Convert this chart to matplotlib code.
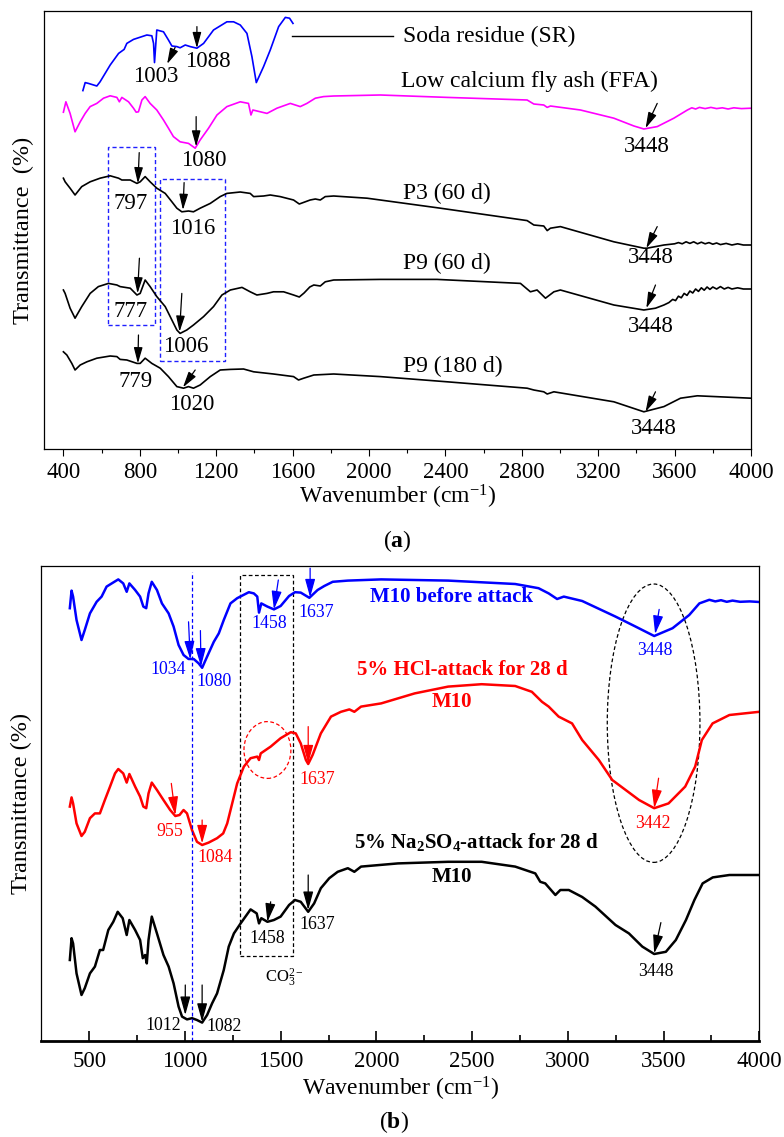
import matplotlib
matplotlib.use('agg')
import matplotlib.pyplot as plt
from matplotlib.patches import Rectangle, Ellipse

plt.rcParams['font.family'] = ['Liberation Serif', 'DejaVu Serif']
plt.rcParams['mathtext.fontset'] = 'custom'
plt.rcParams['mathtext.rm'] = 'Liberation Serif'
plt.rcParams['mathtext.it'] = 'Liberation Serif:italic'
plt.rcParams['mathtext.bf'] = 'Liberation Serif:bold'
plt.rcParams['lines.solid_joinstyle'] = 'round'

# ---- panel (a) spectra, wavenumber (cm-1) vs transmittance (a.u., stacked)
sr_wn = [502, 514, 531, 575, 592, 645, 689, 718, 732, 767, 837, 863, 872, 877, 884, 889, 924, 950, 968, 994,
         1011, 1038, 1064, 1099, 1134, 1186, 1256, 1291, 1326, 1361, 1387, 1410, 1448, 1483, 1527, 1562, 1584, 1602]
sr_t = [89.6, 91.6, 91.4, 90.75, 91.8, 96, 98.9, 99.9, 101.4, 102.4, 103.5, 103.3, 101.4, 96.6, 101.4, 104.75, 104.3,
        102.25, 100.75, 100.6, 100.3, 101, 100.6, 100.2, 101.4, 104.75, 106.8, 106.8, 106, 103.9, 98.1, 91.6, 95.6,
        99.75, 105.6, 107.9, 107.7, 106.4]

ffa_wn = [400, 413, 435, 461, 488, 514, 540, 575, 610, 645, 680, 693, 706, 741, 767, 781, 793, 811, 828, 854,
          889, 924, 950, 976, 1011, 1055, 1090, 1116, 1160, 1204, 1256, 1326, 1369, 1382, 1392, 1466, 1518, 1588,
          1640, 1675, 1719, 1762, 1815, 2059, 2409, 2828, 2863, 2915, 2933, 2950, 3107, 3282, 3387, 3439, 3509,
          3596, 3667, 3690, 3710, 3730, 3760, 3790, 3820, 3850, 3880, 3910, 3950, 4000]
ffa_t = [84.2, 86.8, 83.9, 79.3, 81.8, 83.9, 85.6, 86.4, 87.7, 88.3, 87.9, 86.8, 87.9, 86.8, 85.2, 84.2, 84.3,
         87.25, 88.1, 86.4, 84.75, 82.25, 80.2, 78.1, 76.8, 76.4, 75.2, 77.25, 80.2, 83.5, 85.6, 86.8, 86.4, 83.5,
         84.75, 83.9, 85.2, 86.4, 85.6, 86.4, 87.7, 88.1, 88.25, 88.5, 87.9, 87.25, 86.25, 86, 85.4, 85.75, 84.75,
         82.7, 80.75, 80, 80.6, 82.7, 84.75, 85.3, 85.0, 85.4, 85.1, 85.4, 85.1, 85.3, 85.0, 85.3, 85.1, 85.2]

p3_wn = [400, 409, 435, 461, 496, 540, 592, 645, 689, 706, 750, 785, 802, 828, 854, 889, 933, 968, 994, 1020,
         1055, 1081, 1116, 1169, 1221, 1256, 1326, 1378, 1396, 1448, 1483, 1535, 1605, 1635, 1692, 1719, 1745, 1771,
         1815, 1990, 2059, 2374, 2828, 2863, 2915, 2933, 2950, 3002, 3282, 3439, 3456, 3544, 3600, 3620, 3640,
         3660, 3680, 3700, 3720, 3740, 3760, 3780, 3800, 3820, 3840, 3870, 3900, 3930, 3960, 4000]
p3_t = [67.7, 66.8, 65.2, 63.5, 65.6, 66.8, 67.7, 68.3, 67.7, 67.25, 67.25, 66.4, 66.8, 68.1, 66.8, 65.2, 63.9,
        61.8, 60.2, 59.3, 59.5, 59.3, 60.2, 61.4, 63.1, 63.9, 64.25, 63.9, 63.1, 63.25, 63.5, 63.1, 62.25, 61.25,
        62.25, 62.5, 62.25, 63.1, 63.25, 62.7, 62.25, 60.2, 57.1, 56, 55.75, 54.6, 55.2, 55.6, 51.8, 50.2, 50.2, 51,
        51.3, 51.6, 51.3, 51.8, 51.4, 51.8, 51.3, 51.7, 51.3, 51.6, 51.2, 51.5, 51.1, 51.4, 51.0, 51.3, 51.0, 51]

p9a_wn = [400, 409, 435, 461, 496, 540, 583, 636, 680, 697, 750, 785, 802, 828, 854, 889, 933, 968, 994, 1011,
          1046, 1081, 1134, 1186, 1230, 1274, 1335, 1378, 1413, 1466, 1500, 1553, 1605, 1635, 1660, 1690, 1711,
          1745, 1771, 1815, 2059, 2356, 2793, 2845, 2880, 2924, 2968, 3002, 3282, 3439, 3500, 3544, 3570, 3590,
          3605, 3620, 3635, 3650, 3665, 3680, 3695, 3710, 3725, 3740, 3755, 3770, 3785, 3800, 3820, 3840, 3860,
          3880, 3900, 3930, 3960, 4000]
p9a_t = [39.75, 38.9, 35.2, 32.7, 35.6, 38.9, 40.6, 41.4, 41, 40.6, 40.2, 38.5, 38.9, 42.25, 40.6, 38.1, 35.6,
         32.25, 29.75, 28.9, 29.75, 31, 33.1, 35.6, 38.5, 39.75, 40.4, 39.3, 38.5, 38.9, 39.3, 39.3, 38.5, 38,
         39.0, 40.5, 41, 40.75, 41.8, 42.25, 42.4, 42.4, 41.4, 39.3, 39.75, 37.7, 39.3, 39.75, 36, 34.75, 35.2, 36,
         36.6, 37.4, 37.1, 38.2, 37.8, 38.9, 38.4, 39.5, 39.0, 40.0, 39.4, 40.3, 39.7, 40.5, 39.9, 40.5, 40.0, 40.6,
         40.0, 40.4, 40.0, 40.3, 40.0, 40]

p9b_wn = [400, 418, 444, 461, 488, 523, 575, 645, 680, 697, 732, 785, 802, 828, 863, 907, 950, 994, 1029, 1055,
          1081, 1116, 1169, 1221, 1274, 1343, 1396, 1500, 1605, 1631, 1658, 1711, 1815, 2059, 2409, 2828, 2863,
          2915, 2933, 2968, 3282, 3439, 3544, 3631, 3719, 4000]
p9b_t = [24.3, 23.5, 21.4, 19.75, 21, 21.8, 22.7, 23.25, 23.1, 22.4, 22.25, 21.4, 21.4, 22.7, 21.4, 20.2, 18.1,
         15.6, 15.2, 15.6, 15.2, 16, 18.1, 19.75, 19.9, 20, 19.3, 18.75, 18.1, 17.25, 17.7, 18.5, 18.75, 18.1, 16.8,
         15.2, 14.75, 14.3, 13.75, 14.3, 11.8, 9.3, 10.6, 12.7, 13.3, 12.7]

# ---- panel (b) spectra
m10_wn = [399, 408, 416, 434, 460, 477, 504, 539, 565, 591, 618, 652, 678, 696, 710, 740, 766, 783, 798, 810,
          827, 854, 880, 915, 941, 967, 993, 1019, 1046, 1072, 1090, 1116, 1151, 1177, 1203, 1238, 1273, 1334,
          1360, 1378, 1387, 1399, 1431, 1465, 1500, 1544, 1575, 1605, 1650, 1693, 1728, 1772, 1851, 2025, 2375,
          2725, 2847, 2900, 2944, 2979, 3075, 3249, 3354, 3451, 3547, 3634, 3687, 3710, 3739, 3770, 3800, 3830,
          3860, 3900, 3950, 4000]
m10_t = [108.2, 112.6, 111.1, 105.25, 100.25, 102.75, 106.9, 109.8, 111.1, 113.6, 114.4, 115.4, 114.4, 112.3,
         114.4, 112.75, 111.1, 108.6, 108.2, 111.9, 114.8, 112.75, 109.4, 106.9, 103.6, 99, 96.5, 95.5, 95.5, 94.4,
         93.3, 96.1, 99.8, 101.9, 105.25, 109.4, 110.7, 112.2, 111.9, 111.1, 107.1, 109.4, 108.6, 107.9, 108.75,
         111.25, 112.2, 112.1, 110.8, 112.75, 113.75, 114.8, 115.1, 115.4, 115.1, 114.25, 113.2, 111.9, 110.5,
         111.1, 110, 106.1, 103.6, 101.25, 103.2, 106.5, 109.4, 109.8, 110.3, 109.9, 110.2, 109.8, 110.1, 109.8,
         109.9, 109.75]

hcl_wn = [399, 408, 416, 434, 460, 477, 504, 530, 556, 582, 609, 635, 652, 678, 696, 710, 740, 766, 783, 798,
          810, 827, 854, 888, 923, 950, 972, 993, 1011, 1037, 1063, 1090, 1124, 1168, 1200, 1221, 1247, 1273, 1308,
          1343, 1378, 1387, 1396, 1448, 1500, 1553, 1579, 1605, 1632, 1644, 1667, 1710, 1763, 1815, 1859, 1885,
          1920, 2025, 2200, 2375, 2550, 2725, 2812, 2865, 2900, 2952, 3022, 3075, 3162, 3232, 3302, 3372, 3451,
          3526, 3613, 3665, 3700, 3756, 3844, 4000]
hcl_t = [58.6, 60.9, 59.4, 54.4, 51.25, 52.3, 55.7, 56.9, 56.9, 60.25, 63.6, 66.9, 68, 66.9, 64.6, 66.75, 63.6,
         61.1, 58.6, 58.2, 61.9, 64.6, 62.75, 60.25, 57.75, 56.25, 56.5, 57.75, 56.9, 52.75, 49.8, 49, 49.6, 50.7,
         51.9, 54.4, 59.4, 64.4, 68.6, 70.7, 71.1, 70.25, 71.9, 73.6, 75.7, 77.2, 76.9, 74.4, 70.25, 69.25, 71.5,
         76.9, 81.1, 82.3, 82.9, 82.3, 83.6, 84.4, 86.9, 88.6, 89.2, 88.75, 87.3, 84.8, 83.6, 81.1, 79.4, 75.25,
         70.25, 65.25, 62.75, 60.25, 58.2, 59.4, 63.6, 68.6, 75.25, 79.4, 81.5, 82.3]

na_wn = [399, 408, 416, 434, 460, 477, 504, 530, 556, 573, 600, 626, 649, 675, 696, 710, 740, 766, 780, 792,
         801, 810, 827, 854, 888, 915, 941, 967, 985, 1011, 1037, 1063, 1090, 1116, 1142, 1168, 1203, 1229, 1256,
         1291, 1343, 1375, 1387, 1399, 1431, 1465, 1500, 1544, 1575, 1605, 1644, 1675, 1710, 1754, 1798, 1851,
         1885, 1920, 2113, 2375, 2550, 2725, 2830, 2856, 2882, 2935, 2961, 3005, 3075, 3144, 3249, 3319, 3389,
         3451, 3512, 3564, 3617, 3661, 3704, 3757, 3844, 4000]
na_t = [20.25, 25.7, 24.4, 16.9, 11.5, 13.2, 16.9, 18.6, 22.75, 22.75, 27.75, 29.8, 32.3, 30.7, 26.5, 30.25, 27.75,
        25.25, 20.7, 21.5, 19.4, 25.25, 31.1, 26.9, 21.5, 18.6, 14.4, 8.6, 6.1, 5.4, 5.7, 5.25, 4.6, 6.5, 9.4, 11.9,
        17.75, 23.6, 26.9, 29.4, 32.9, 31.9, 29.4, 30.7, 29.8, 30.25, 31.1, 34, 35.25, 34.8, 32.3, 34.4, 38.2, 40.7,
        42.3, 43.2, 42.3, 43.6, 44.4, 44.8, 44.8, 43.6, 41.9, 39.8, 39.4, 36.5, 37.75, 37.75, 36, 33.6, 29, 26.9,
        23.6, 21.75, 22.3, 25.25, 30.25, 35.25, 39.4, 40.9, 41.5, 41.5]

# peak marks: tail wn, tail T, head wn, head T, text, text wn, text T
marks_a = [(985, 100.4, 943, 96.25, '1003', 886, 93.1),
           (1099, 105.6, 1099, 100.2, '1088', 1155, 96.8),
           (1095, 83.1, 1095, 75.6, '1080', 1137, 72.25),
           (3509, 86.4, 3448, 80.2, '3448', 3457, 75.6),
           (797, 74.1, 790, 66.4, '797', 753, 61.4),
           (1032, 66.6, 1026, 59.75, '1016', 1078, 55.2),
           (3509, 55.6, 3452, 50.2, '3448', 3474, 47.8),
           (798, 47.7, 788, 38.9, '777', 753, 34.3),
           (1020, 38.9, 1008, 29.3, '1006', 1038, 25.6),
           (3500, 41, 3452, 35.2, '3448', 3474, 30.6),
           (793, 28.5, 790, 21.4, '779', 776, 16.8),
           (1090, 19.75, 1026, 15.4, '1020', 1073, 11),
           (3500, 14.3, 3448, 9.3, '3448', 3491, 5.2)]

marks_b = [('blue', 1019, 104.8, 1028, 95.4, '1034', 915, 92.75),
           ('blue', 1081, 102.6, 1084, 93.6, '1080', 1151, 90),
           ('blue', 1488, 115.25, 1465, 107.9, '1458', 1439, 104.4),
           ('blue', 1654, 118.2, 1654, 110.9, '1637', 1684, 107.1),
           ('blue', 3477, 107.9, 3456, 101.75, '3448', 3452, 97.6),
           ('red', 929, 64.4, 950, 56.5, '955', 923, 52.3),
           ('red', 1090, 55.25, 1090, 49.4, '1084', 1160, 45.8),
           ('red', 1644, 78.6, 1644, 69.4, '1637', 1693, 65.5),
           ('red', 3474, 65.7, 3451, 58.2, '3442', 3442, 54.4),
           ('black', 1002, 14, 1002, 6.5, '1012', 888, 4),
           ('black', 1090, 14, 1090, 4.8, '1082', 1203, 3.6),
           ('black', 1448, 34.8, 1431, 29.8, '1458', 1431, 25.7),
           ('black', 1644, 41.5, 1644, 32.75, '1637', 1693, 29.2),
           ('black', 3486, 29.6, 3451, 21.9, '3448', 3460, 17.3)]


def arrow(ax, x0, y0, x1, y1, color, ms):
    ax.annotate('', xy=(x1, y1), xytext=(x0, y0),
                arrowprops=dict(arrowstyle='-|>,head_length=0.8,head_width=0.22', color=color,
                                lw=0.9, shrinkA=0, shrinkB=0, mutation_scale=ms))


fig = plt.figure(figsize=(7.84, 11.37), dpi=100)
axa = fig.add_axes([44.3 / 784, 1 - 449 / 1137, (751 - 44.3) / 784, (449 - 11) / 1137])
axb = fig.add_axes([41.3 / 784, 1 - 1041 / 1137, (759.3 - 41.3) / 784, (1041 - 566) / 1137])

# ---------------- (a)
axa.plot(sr_wn, sr_t, color='#0000ff', lw=1.2)
axa.plot(ffa_wn, ffa_t, color='#ff00ff', lw=1.2)
axa.plot(p3_wn, p3_t, color='black', lw=1.2)
axa.plot(p9a_wn, p9a_t, color='black', lw=1.2)
axa.plot(p9b_wn, p9b_t, color='black', lw=1.2)

for x0, y0, x1, y1, s, tx, ty in marks_a:
    arrow(axa, x0, y0, x1, y1, 'black', 12)
    axa.text(tx, ty, s, fontsize=16.5, ha='center', va='center')

axa.plot([1599, 2127], [103.25, 103.25], color='black', lw=1.0)
axa.text(2178, 103.25, 'Soda residue (SR)', fontsize=17, ha='left', va='center')
axa.text(2168, 91.8, 'Low calcium fly ash (FFA)', fontsize=17, ha='left', va='center')
axa.text(2178, 63.9, 'P3 (60 d)', fontsize=17, ha='left', va='center')
axa.text(2178, 46.4, 'P9 (60 d)', fontsize=17, ha='left', va='center')
axa.text(2178, 20.6, 'P9 (180 d)', fontsize=17, ha='left', va='center')

for x, y, w, h in [(636, 31, 241, 44.4), (907, 22.1, 340, 45.4)]:
    axa.add_patch(Rectangle((x, y), w, h, fill=False, ec='#2020ff', lw=1.0, ls=(0, (3, 2))))

axa.set_xlim(300, 4000)
axa.set_ylim(0, 109.5)
axa.set_xticks(range(400, 4001, 400))
axa.set_xticks(range(600, 4000, 400), minor=True)
axa.set_yticks([])
axa.tick_params(axis='x', which='major', direction='out', length=5, width=0.8, labelsize=16.5, pad=4)
axa.tick_params(axis='x', which='minor', direction='out', length=3, width=0.8)
axa.set_xlabel('Wavenumber (cm$^{-1}$)', fontsize=17, labelpad=0)
axa.text(-0.030, 0.5, 'Transmittance  (%)', transform=axa.transAxes, rotation=90,
         fontsize=17.5, ha='center', va='center')
for sp in axa.spines.values():
    sp.set_linewidth(0.9)

# ---------------- (b)
axb.plot(m10_wn, m10_t, color='#0000ff', lw=1.8)
axb.plot(hcl_wn, hcl_t, color='#ff0000', lw=1.8)
axb.plot(na_wn, na_t, color='black', lw=1.8)

for c, x0, y0, x1, y1, s, tx, ty in marks_b:
    arrow(axb, x0, y0, x1, y1, c, 14)
    axb.text(tx, ty, s, fontsize=12.8, color=c, ha='center', va='center')

axb.text(2393, 111.1, 'M10 before attack', fontsize=15, fontweight='bold', color='#0000ff',
         ha='center', va='center')
axb.text(2448, 92.75, '5% HCl-attack for 28 d', fontsize=15, fontweight='bold', color='#ff0000',
         ha='center', va='center')
axb.text(2393, 84.8, 'M10', fontsize=15, fontweight='bold', color='#ff0000', ha='center', va='center')
axb.text(2523, 49.8, r'5% Na$_\mathbf{2}$SO$_\mathbf{4}$-attack for 28 d', fontsize=15, fontweight='bold',
         color='black', ha='center', va='center')
axb.text(2393, 41, 'M10', fontsize=15, fontweight='bold', color='black', ha='center', va='center')
axb.text(1518, 15.7, r'CO$_3^{2-}$', fontsize=12, ha='center', va='center')

axb.plot([1037, 1037], [0, 117.3], color='#0000ff', lw=0.9, ls=(0, (3, 2)))
axb.add_patch(Rectangle((1287, 21.25), 278, 95.25, fill=False, ec='black', lw=0.9, ls=(0, (3, 2))))
axb.add_patch(Ellipse((1431, 72.75), 245, 14.2, fill=False, ec='#ff0000', lw=0.9, ls=(0, (3, 2))))
axb.add_patch(Ellipse((3448, 79.45), 484, 69.6, fill=False, ec='black', lw=0.9, ls=(0, (3, 2))))

axb.set_xlim(250, 4000)
axb.set_ylim(0, 118.75)
axb.set_xticks(range(500, 4001, 500))
axb.set_xticks(range(750, 4000, 500), minor=True)
axb.set_yticks([])
axb.tick_params(axis='x', which='major', direction='in', length=7, width=1.2, labelsize=16.5, pad=7)
axb.tick_params(axis='x', which='minor', direction='in', length=4.5, width=1.2)
axb.set_xlabel('Wavenumber (cm$^{-1}$)', fontsize=17, labelpad=2)
axb.text(-0.027, 0.5, 'Transmittance (%)', transform=axb.transAxes, rotation=90,
         fontsize=17.5, ha='center', va='center')
for sp in axb.spines.values():
    sp.set_linewidth(0.9)
axb.spines['bottom'].set_linewidth(2.0)

fig.text(397 / 784, 1 - 541 / 1137, r'($\mathbf{a}$)', fontsize=17, ha='center', va='center')
fig.text(394 / 784, 1 - 1122 / 1137, r'($\mathbf{b}$)', fontsize=17, ha='center', va='center')

fig.savefig('out.png', dpi=100)
